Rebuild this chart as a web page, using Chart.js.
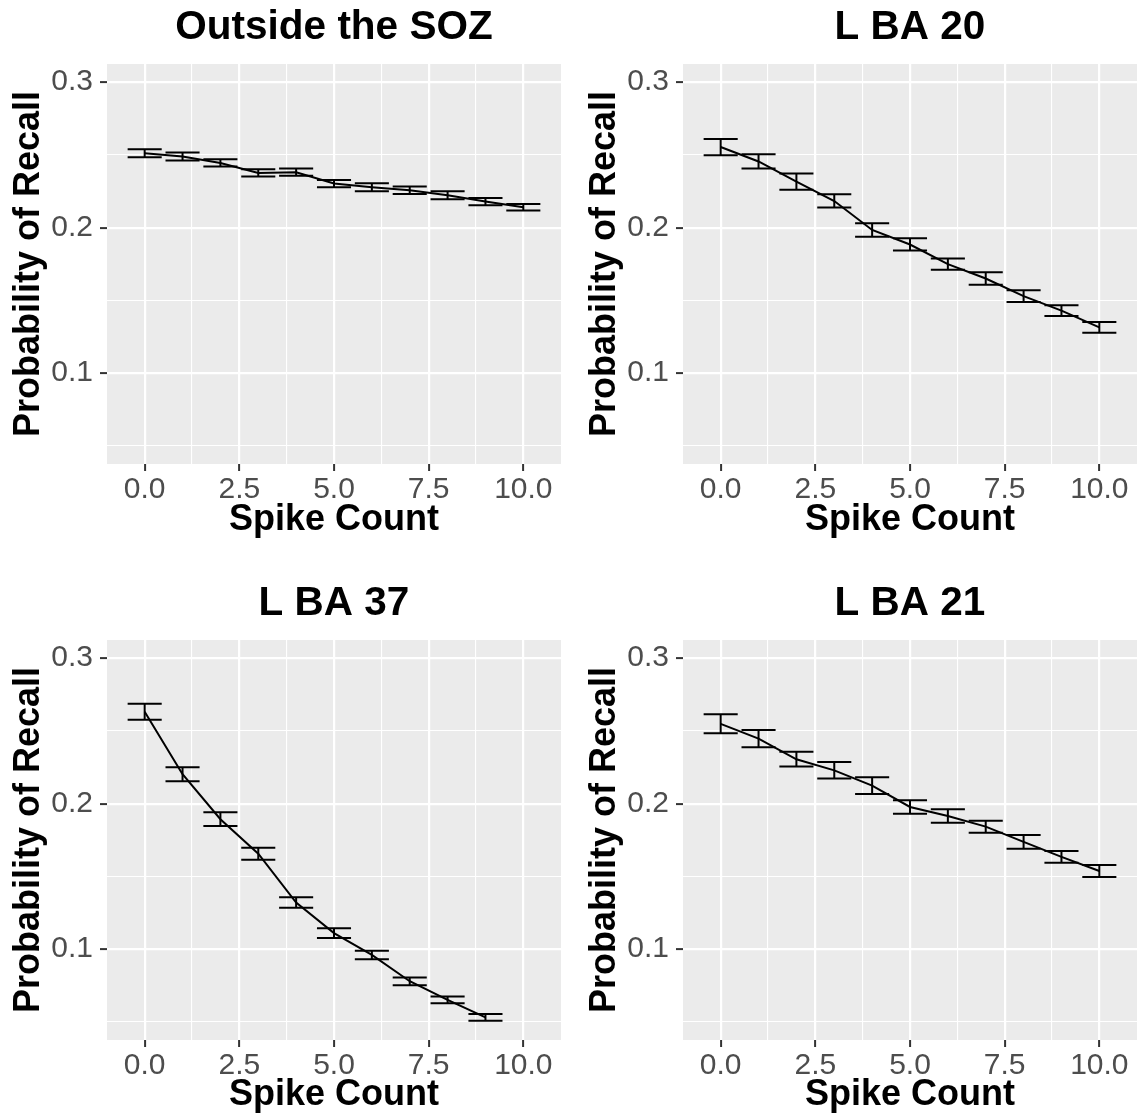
<!DOCTYPE html>
<html>
<head>
<meta charset="utf-8">
<script src="https://cdn.jsdelivr.net/npm/chart.js@4.4.0/dist/chart.umd.min.js"></script>
<style>
  body { margin: 0; background: #fff; }
  .cell { position: absolute; }
</style>
</head>
<body>
<div class="cell" style="left:0;top:0"><canvas id="c1" width="576" height="576"></canvas></div>
<div class="cell" style="left:576px;top:0"><canvas id="c2" width="561" height="576"></canvas></div>
<div class="cell" style="left:0;top:576px"><canvas id="c3" width="576" height="544"></canvas></div>
<div class="cell" style="left:576px;top:576px"><canvas id="c4" width="561" height="544"></canvas></div>
<script>
// spike counts on the x axis
const spikeCount = [0, 1, 2, 3, 4, 5, 6, 7, 8, 9, 10];

// Outside the SOZ
const outsideMean = [0.2511, 0.2489, 0.2445, 0.2376, 0.2381, 0.2303, 0.2278, 0.2257, 0.2222, 0.2179, 0.2140];
const outsideLo   = [0.2484, 0.2461, 0.2420, 0.2351, 0.2356, 0.2278, 0.2250, 0.2232, 0.2195, 0.2154, 0.2117];
const outsideHi   = [0.2539, 0.2516, 0.2470, 0.2401, 0.2406, 0.2328, 0.2305, 0.2282, 0.2250, 0.2204, 0.2163];

// L BA 20
const ba20Mean = [0.2554, 0.2455, 0.2317, 0.2183, 0.1984, 0.1884, 0.1749, 0.1650, 0.1529, 0.1429, 0.1314];
const ba20Lo   = [0.2498, 0.2406, 0.2261, 0.2138, 0.1938, 0.1842, 0.1711, 0.1608, 0.1489, 0.1392, 0.1278];
const ba20Hi   = [0.2610, 0.2505, 0.2372, 0.2229, 0.2030, 0.1927, 0.1787, 0.1693, 0.1569, 0.1466, 0.1351];

// L BA 37 (no point at 10)
const ba37Mean = [0.2631, 0.2202, 0.1893, 0.1656, 0.1320, 0.1110, 0.0960, 0.0779, 0.0651, 0.0530];
const ba37Lo   = [0.2576, 0.2154, 0.1846, 0.1615, 0.1284, 0.1076, 0.0931, 0.0752, 0.0628, 0.0507];
const ba37Hi   = [0.2686, 0.2250, 0.1940, 0.1697, 0.1356, 0.1144, 0.0989, 0.0805, 0.0674, 0.0553];

// L BA 21
const ba21Mean = [0.2548, 0.2447, 0.2305, 0.2229, 0.2124, 0.1977, 0.1915, 0.1842, 0.1737, 0.1634, 0.1537];
const ba21Lo   = [0.2484, 0.2388, 0.2255, 0.2172, 0.2067, 0.1931, 0.1869, 0.1800, 0.1690, 0.1594, 0.1495];
const ba21Hi   = [0.2615, 0.2507, 0.2356, 0.2287, 0.2181, 0.2023, 0.1961, 0.1883, 0.1784, 0.1674, 0.1578];

// grid / tick positions (majors get labels)
const xGridTicks = [0, 1.25, 2.5, 3.75, 5, 6.25, 7.5, 8.75, 10];
const xLabelTicks = [0, 2.5, 5, 7.5, 10];
const yGridTicks = [0.05, 0.1, 0.15, 0.2, 0.25, 0.3];
const yLabelTicks = [0.1, 0.2, 0.3];

const FONT = "'Liberation Sans', Arial, Helvetica, sans-serif";
const ERR_HALF = 0.45;

const isIn = (v, arr) => arr.some(a => Math.abs(a - v) < 1e-9);

const panelBg = {
  id: 'panelBg',
  beforeDraw(chart) {
    const {ctx, chartArea: a} = chart;
    ctx.save();
    ctx.fillStyle = '#EBEBEB';
    ctx.fillRect(a.left, a.top, a.right - a.left, a.bottom - a.top);
    ctx.restore();
  }
};

const errorBars = {
  id: 'errorBars',
  afterDatasetsDraw(chart) {
    const {ctx, scales: {x, y}} = chart;
    const ds = chart.data.datasets[0];
    ctx.save();
    ctx.strokeStyle = '#000';
    ctx.lineWidth = 2;
    ds.data.forEach((p, i) => {
      const px = x.getPixelForValue(p.x);
      const x0 = x.getPixelForValue(p.x - ERR_HALF);
      const x1 = x.getPixelForValue(p.x + ERR_HALF);
      const yl = y.getPixelForValue(ds.errLo[i]);
      const yh = y.getPixelForValue(ds.errHi[i]);
      ctx.beginPath();
      ctx.moveTo(x0, yh); ctx.lineTo(x1, yh);
      ctx.moveTo(x0, yl); ctx.lineTo(x1, yl);
      ctx.moveTo(px, yh); ctx.lineTo(px, yl);
      ctx.stroke();
    });
    ctx.restore();
  }
};

function makePanel(id, title, mean, lo, hi, xTitlePad) {
  const canvas = document.getElementById(id);
  const W = canvas.width, H = canvas.height;
  const pts = mean.map((m, i) => ({x: spikeCount[i], y: m}));
  new Chart(canvas, {
    type: 'line',
    data: {
      datasets: [{
        data: pts,
        errLo: lo,
        errHi: hi,
        borderColor: '#000',
        borderWidth: 2,
        pointRadius: 0,
        tension: 0,
        fill: false
      }]
    },
    options: {
      responsive: false,
      animation: false,
      devicePixelRatio: 1,
      layout: {padding: {top: 0, left: 0, right: W - 561, bottom: 0}},
      plugins: {
        legend: {display: false},
        tooltip: {enabled: false},
        title: {
          display: true,
          fullSize: false,
          text: title,
          color: '#000',
          font: {family: FONT, size: 40.5, weight: 'bold'},
          padding: {top: 4, bottom: 11.4}
        }
      },
      scales: {
        x: {
          type: 'linear',
          min: -0.995,
          max: 10.995,
          afterFit: s => { s.height = H - 464; },
          afterBuildTicks: s => { s.ticks = xGridTicks.map(v => ({value: v})); },
          border: {display: false},
          grid: {
            color: '#FFFFFF',
            lineWidth: c => isIn(c.tick.value, xLabelTicks) ? 2.2 : 1.1,
            drawTicks: true,
            tickLength: 7,
            tickWidth: 2,
            tickColor: c => isIn(c.tick.value, xLabelTicks) ? '#333333' : 'rgba(0,0,0,0)'
          },
          ticks: {
            autoSkip: false,
            maxRotation: 0,
            padding: 1,
            color: '#4D4D4D',
            font: {family: FONT, size: 30},
            callback: v => isIn(v, xLabelTicks) ? v.toFixed(1) : ''
          },
          title: {
            display: true,
            text: 'Spike Count',
            color: '#000',
            font: {family: FONT, size: 36, weight: 'bold'},
            padding: {top: 0, bottom: xTitlePad}
          }
        },
        y: {
          type: 'linear',
          min: 0.0375,
          max: 0.3125,
          afterFit: s => { s.width = 107; },
          afterBuildTicks: s => { s.ticks = yGridTicks.map(v => ({value: v})); },
          border: {display: false},
          grid: {
            color: '#FFFFFF',
            lineWidth: c => isIn(c.tick.value, yLabelTicks) ? 2.2 : 1.1,
            drawTicks: true,
            tickLength: 7,
            tickWidth: 2,
            tickColor: c => isIn(c.tick.value, yLabelTicks) ? '#333333' : 'rgba(0,0,0,0)'
          },
          ticks: {
            autoSkip: false,
            padding: 7,
            color: '#4D4D4D',
            font: {family: FONT, size: 30},
            callback: v => isIn(v, yLabelTicks) ? v.toFixed(1) : ''
          },
          title: {
            display: true,
            text: 'Probability of Recall',
            color: '#000',
            font: {family: FONT, size: 36, weight: 'bold'},
            padding: {top: 7, bottom: 0}
          }
        }
      }
    },
    plugins: [panelBg, errorBars]
  });
}

makePanel('c1', 'Outside the SOZ', outsideMean, outsideLo, outsideHi, 34);
makePanel('c2', 'L BA 20', ba20Mean, ba20Lo, ba20Hi, 34);
makePanel('c3', 'L BA 37', ba37Mean, ba37Lo, ba37Hi, 3);
makePanel('c4', 'L BA 21', ba21Mean, ba21Lo, ba21Hi, 3);
</script>
</body>
</html>
